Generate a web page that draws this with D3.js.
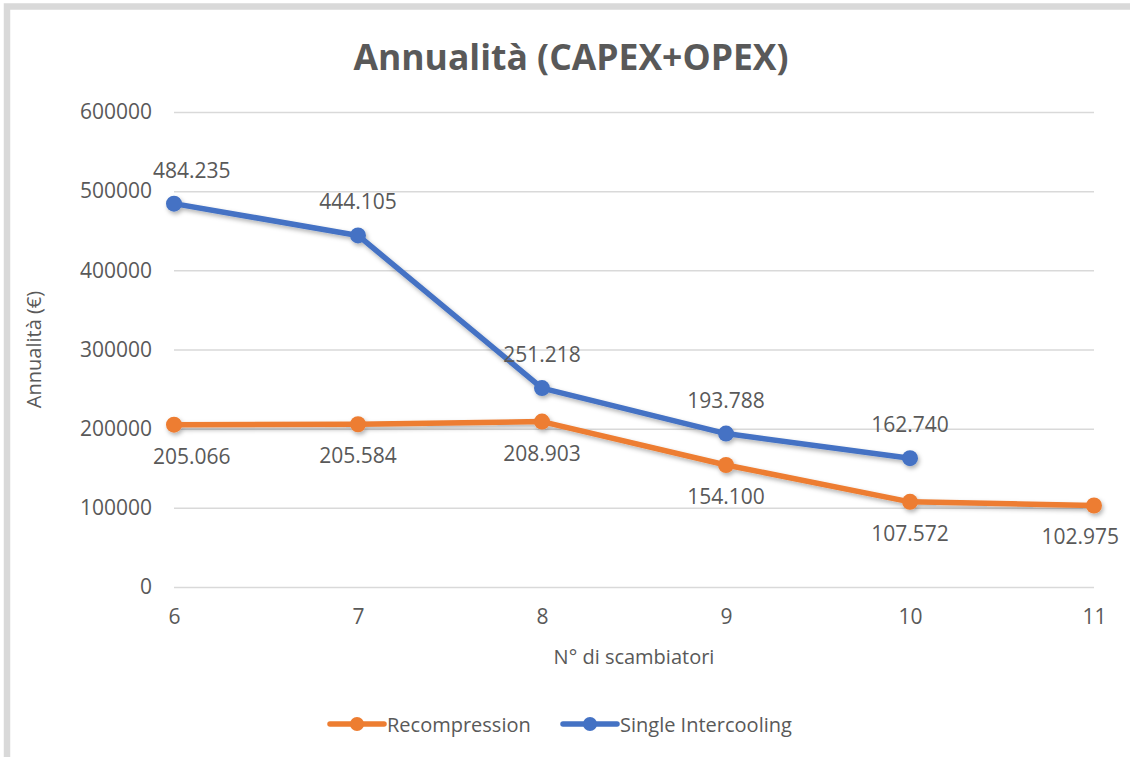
<!DOCTYPE html>
<html>
<head>
<meta charset="utf-8">
<script src="https://cdn.jsdelivr.net/npm/d3@7/dist/d3.min.js"></script>
<style>
  html, body { margin: 0; padding: 0; background: #fff; }
  svg { display: block; }
  text { font-family: "Open Sans", "Noto Sans", sans-serif; fill: #595959; }
</style>
</head>
<body>
<svg id="chart" width="1130" height="757"></svg>
<script>
// Number of heat exchangers on the x axis
const categories = [6, 7, 8, 9, 10, 11];
// Annual cost (CAPEX + OPEX) in euro
const recompression = [205066, 205584, 208903, 154100, 107572, 102975];
const singleIntercooling = [484235, 444105, 251218, 193788, 162740];
const yTicks = [0, 100000, 200000, 300000, 400000, 500000, 600000];

const seriesNames = ["Recompression", "Single Intercooling"];
const seriesColors = ["#ED7D31", "#4472C4"];

const svg = d3.select("#chart");
const W = 1130, H = 757;

// chart frame
svg.append("rect")
  .attr("x", 7).attr("y", 6.5)
  .attr("width", 1300).attr("height", 900)
  .attr("fill", "#fff")
  .attr("stroke", "#d9d9d9")
  .attr("stroke-width", 6.5);

const plot = { left: 174, right: 1094, top: 112, bottom: 587 };

const x = d3.scaleLinear().domain([6, 11]).range([plot.left, plot.right]);
const y = d3.scaleLinear().domain([0, 600000]).range([plot.bottom, plot.top]);

// soft shadow under lines and markers
const defs = svg.append("defs");
const f = defs.append("filter").attr("id", "shadow")
  .attr("x", "-10%").attr("y", "-10%").attr("width", "120%").attr("height", "130%");
f.append("feDropShadow").attr("dx", 1.5).attr("dy", 2.5)
  .attr("stdDeviation", 2).attr("flood-color", "#000").attr("flood-opacity", 0.3);

// title
svg.append("text")
  .attr("x", 571).attr("y", 70)
  .attr("text-anchor", "middle")
  .style("font-size", "35.5px").style("font-weight", "bold")
  .text("Annualità (CAPEX+OPEX)");

// horizontal gridlines + y labels
const yAxis = d3.axisLeft(y).tickValues(yTicks)
  .tickSize(-(plot.right - plot.left)).tickPadding(22)
  .tickFormat(d3.format("d"));
const gy = svg.append("g").attr("transform", `translate(${plot.left},0)`).call(yAxis);
gy.select(".domain").remove();
gy.selectAll(".tick line").attr("stroke", "#d9d9d9").attr("stroke-width", 1.5);
gy.selectAll(".tick text")
  .style("font-size", "21px").attr("fill", "#595959")
  .style("font-family", '"Open Sans", sans-serif');

// x labels
const xAxis = d3.axisBottom(x).tickValues(categories).tickSize(0).tickPadding(22)
  .tickFormat(d3.format("d"));
const gx = svg.append("g").attr("transform", `translate(0,${plot.bottom})`).call(xAxis);
gx.select(".domain").remove();
gx.selectAll(".tick text")
  .style("font-size", "21px").attr("fill", "#595959")
  .style("font-family", '"Open Sans", sans-serif');

// axis titles
svg.append("text")
  .attr("x", (plot.left + plot.right) / 2).attr("y", 664)
  .attr("text-anchor", "middle").style("font-size", "20px")
  .text("N° di scambiatori");
svg.append("text")
  .attr("transform", `translate(41,${(plot.top + plot.bottom) / 2}) rotate(-90)`)
  .attr("text-anchor", "middle").style("font-size", "20px")
  .text("Annualità (€)");

// lines and markers
const series = [
  { name: seriesNames[0], color: seriesColors[0], values: recompression, labelPos: "below" },
  { name: seriesNames[1], color: seriesColors[1], values: singleIntercooling, labelPos: "above" }
];
const line = d3.line().x(d => x(d.x)).y(d => y(d.v));

series.forEach(s => {
  const pts = s.values.map((v, i) => ({ x: categories[i], v }));
  const g = svg.append("g").attr("filter", "url(#shadow)");
  g.append("path").datum(pts)
    .attr("d", line).attr("fill", "none")
    .attr("stroke", s.color).attr("stroke-width", 5.5)
    .attr("stroke-linejoin", "round").attr("stroke-linecap", "round");
  g.selectAll("circle").data(pts).join("circle")
    .attr("cx", d => x(d.x)).attr("cy", d => y(d.v))
    .attr("r", 8).attr("fill", s.color);
  s.pts = pts;
});

// data labels, dotted thousands separator
const fmt = v => d3.format(",")(v).replace(/,/g, ".");
const tickBoxes = gy.selectAll(".tick text").nodes().map(n => n.getBoundingClientRect());
const rightLimit = W - 11;
series.forEach(s => {
  s.pts.forEach(d => {
    const t = svg.append("text")
      .attr("x", x(d.x))
      .attr("y", y(d.v) + (s.labelPos === "above" ? -26 : 39))
      .attr("text-anchor", "middle")
      .style("font-size", "21px")
      .text(fmt(d.v));
    // nudge labels right if they collide with an axis label
    const b = t.node().getBoundingClientRect();
    tickBoxes.forEach(tb => {
      const overlapY = b.top < tb.bottom && b.bottom > tb.top;
      if (overlapY && b.left < tb.right + 1) {
        t.attr("x", x(d.x) + (tb.right + 1 - b.left));
      }
    });
    // keep labels inside the chart frame
    if (b.right > rightLimit) {
      t.attr("x", x(d.x) - (b.right - rightLimit));
    }
  });
});

// legend
const legend = svg.append("g").attr("transform", "translate(0,724)");
const legendItems = [
  { name: seriesNames[0], color: seriesColors[0], x0: 330 },
  { name: seriesNames[1], color: seriesColors[1], x0: 563 }
];
legendItems.forEach(it => {
  const g = legend.append("g");
  g.append("line").attr("x1", it.x0).attr("x2", it.x0 + 54)
    .attr("y1", 0).attr("y2", 0)
    .attr("stroke", it.color).attr("stroke-width", 5.5).attr("stroke-linecap", "round");
  g.append("circle").attr("cx", it.x0 + 27).attr("cy", 0).attr("r", 7).attr("fill", it.color);
  g.append("text").attr("x", it.x0 + 57).attr("y", 7.5)
    .style("font-size", "20px").text(it.name);
});
</script>
</body>
</html>
